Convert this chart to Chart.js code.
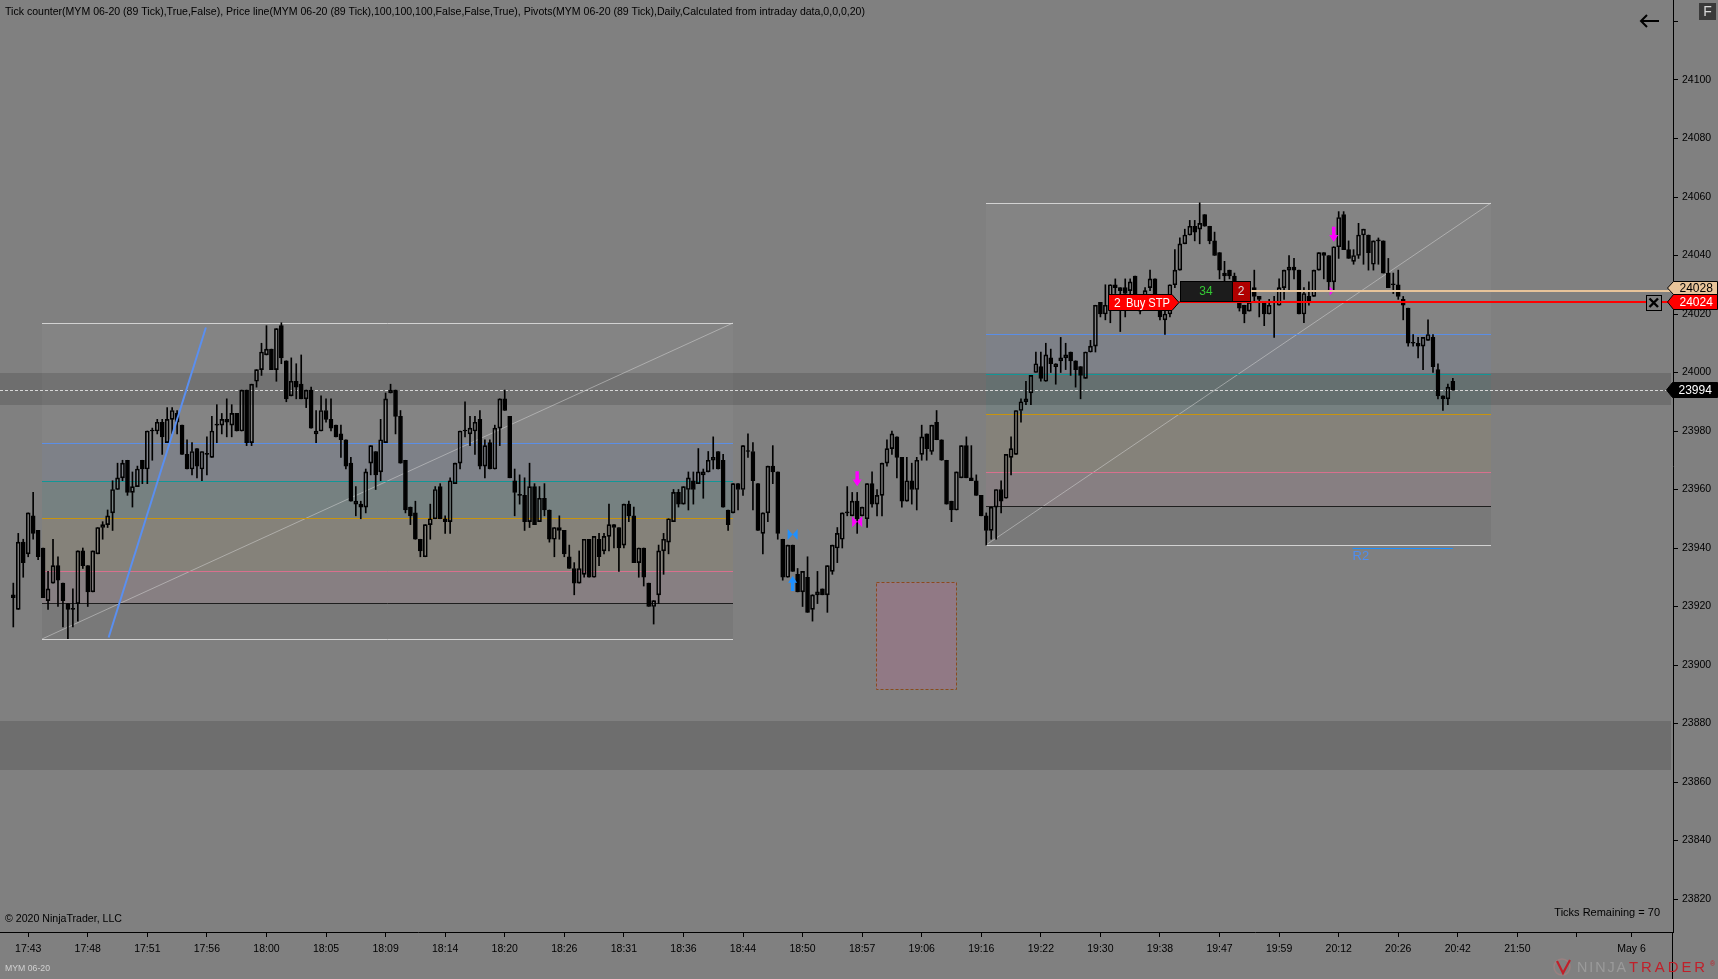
<!DOCTYPE html>
<html>
<head>
<meta charset="utf-8">
<title>MYM 06-20 (89 Tick)</title>
<script src="https://cdn.jsdelivr.net/npm/chart.js@4.4.1/dist/chart.umd.min.js"></script>
<style>
html,body{margin:0;padding:0;background:#808080;overflow:hidden;width:1718px;height:979px}
canvas{display:block}
</style>
</head>
<body>
<canvas id="chart" width="1718" height="979"></canvas>
<script>
// ---------------- DATA (MYM 06-20, 89 tick bars) ----------------
const opens = [
23924,23919,23942,23938,23951,23946,23940,23922,23928,23934,
23928,23921,23919,23921,23939,23934,23925,23938,23947,23948,
23952,23960,23964,23970,23959,23961,23970,23967,23980,23980,
23983,23976,23984,23986,23982,23972,23967,23974,23967,23972,
23971,23982,23982,23984,23982,23986,23980,23994,23976,23997,
24001,24006,24008,24001,24016,24004,23992,23997,
23996,23991,23994,23979,23980,23987,23984,23982,23979,23977,
23969,23955,23955,23954,23969,23973,23966,23976,23993,23994,
23985,23970,23954,23952,23943,23937,23948,23950,23961,23950,
23949,23962,23969,23980,23979,23980,23984,23968,23976,23967,
23981,23991,23985,23963,23958,23958,23949,23961,23949,23957,
23953,23943,23947,23946,23937,23933,23928,23931,
23943,23930,23943,23939,23944,23948,23947,23941,23955,23951,
23935,23940,23928,23920,23924,23939,23942,23949,23959,23955,
23960,23963,23962,23965,23966,23970,23973,23970,23953,23952,
23962,23960,23973,23973,23962,23945,23952,23968,23966,23943,
23930,23941,23931,23925,23930,23919,23924,23926,23924,23932,
23940,23943,23952,23951,23956,23951,23950,
23962,23955,23958,23969,23974,23978,23971,23956,23963,23960,
23972,23979,23973,23983,23977,23970,23956,23953,23964,23975,
23964,23963,23958,23951,23946,23954,23960,23957,23971,23972,
23987,23990,23993,24000,24002,23997,24005,24002,24004,24005,
24007,24004,24002,23998,24007,24009,24024,24020,24023,24030,
24029,24029,24028,24033,24021,24024,24029,24032,24024,24018,
24020,24030,24035,24044,24047,24050,24049,24054,24050,24045,
24041,24034,24035,24033,24026,24023,24021,24029,24026,24024,
24020,24024,24023,24029,24035,24036,24035,24020,24026,24026,
24035,24041,24040,24031,24043,24054,24042,24038,24040,24047,
24047,24037,24045,24045,24034,24030,24030,24025,24022,24010,
24010,24009,24011,24012,24001,23992,23991,23997];
const highs = [
23928,23945,23943,23952,23959,23946,23940,23932,23943,23937,
23928,23921,23926,23939,23940,23934,23939,23947,23949,23953,
23963,23969,23970,23970,23966,23968,23970,23980,23981,23984,
23984,23988,23988,23987,23982,23977,23976,23974,23973,23978,
23985,23989,23986,23991,23989,23986,23994,23994,23996,24001,
24010,24016,24008,24015,24017,24004,24005,24003,
24006,23994,23995,23987,23992,23991,23991,23982,23982,23977,
23971,23961,23956,23967,23975,23973,23984,23993,23996,23994,
23987,23970,23954,23956,23943,23948,23955,23961,23962,23951,
23964,23969,23980,23990,23985,23985,23987,23977,23977,23982,
23991,23994,23985,23967,23965,23964,23969,23962,23961,23962,
23953,23947,23951,23946,23941,23935,23939,23943,
23943,23944,23945,23945,23955,23948,23947,23955,23956,23954,
23940,23940,23928,23922,23941,23945,23950,23960,23960,23961,
23966,23966,23974,23967,23973,23978,23973,23972,23953,23962,
23962,23975,23979,23976,23962,23952,23968,23975,23966,23943,
23941,23941,23933,23932,23937,23924,23932,23926,23934,23941,
23947,23952,23961,23959,23959,23954,23962,
23966,23960,23969,23977,23980,23978,23971,23971,23969,23971,
23982,23979,23982,23987,23977,23970,23956,23966,23975,23978,
23975,23965,23958,23952,23954,23960,23963,23972,23978,23987,
23991,23997,23999,24007,24007,24010,24008,24003,24012,24010,
24007,24004,24002,24007,24011,24023,24024,24030,24030,24032,
24029,24032,24032,24033,24025,24029,24035,24032,24026,24022,
24030,24042,24046,24049,24052,24052,24058,24054,24050,24048,
24041,24038,24035,24034,24026,24023,24028,24035,24026,24024,
24025,24026,24032,24035,24040,24039,24035,24029,24031,24035,
24041,24041,24040,24043,24055,24055,24045,24042,24051,24049,
24047,24045,24046,24045,24039,24034,24035,24026,24022,24013,
24012,24012,24018,24013,24003,23992,23996,23998];
const lows = [
23913,23919,23930,23937,23943,23936,23923,23919,23928,23920,
23913,23909,23913,23915,23933,23920,23925,23938,23943,23947,
23946,23960,23963,23958,23954,23961,23962,23962,23970,23979,
23972,23976,23979,23979,23972,23967,23965,23964,23963,23965,
23971,23976,23979,23978,23978,23980,23980,23975,23975,23995,
23999,24006,24001,23997,24003,23990,23992,23991,
23991,23988,23981,23976,23980,23983,23980,23978,23971,23967,
23956,23951,23950,23952,23965,23960,23963,23976,23993,23979,
23969,23952,23948,23943,23937,23937,23943,23950,23950,23945,
23945,23962,23967,23978,23975,23972,23967,23964,23967,23967,
23975,23987,23964,23951,23955,23946,23947,23948,23949,23951,
23942,23937,23943,23937,23933,23924,23928,23930,
23930,23930,23934,23938,23939,23940,23932,23940,23949,23935,
23930,23927,23920,23914,23921,23931,23938,23949,23954,23955,
23953,23955,23962,23957,23966,23967,23967,23954,23946,23952,
23953,23958,23971,23953,23946,23938,23949,23962,23943,23929,
23930,23932,23925,23920,23918,23915,23921,23924,23918,23931,
23935,23940,23951,23951,23945,23951,23947,
23954,23951,23951,23968,23972,23964,23954,23956,23955,23953,
23970,23970,23972,23977,23970,23955,23949,23953,23964,23964,
23963,23958,23951,23941,23943,23943,23952,23957,23965,23972,
23983,23989,23989,24000,23997,23997,24000,23996,24000,24001,
23999,23995,23991,23998,24007,24007,24019,24018,24017,24027,
24014,24019,24026,24023,24020,24022,24028,24022,24018,24013,
24019,24029,24035,24044,24047,24045,24044,24050,24044,24040,
24032,24031,24032,24026,24021,24017,24021,24024,24019,24016,
24020,24012,24023,24025,24028,24032,24020,24017,24023,24026,
24035,24032,24028,24028,24039,24042,24039,24037,24039,24037,
24035,24035,24037,24034,24029,24027,24025,24018,24009,24009,
24005,24001,24011,24000,23991,23987,23989,23994];
const closes = [
23923,23942,23935,23952,23945,23937,23923,23926,23934,23929,
23922,23919,23919,23939,23934,23925,23939,23947,23948,23951,
23960,23964,23969,23959,23961,23967,23967,23980,23980,23983,
23978,23984,23987,23983,23972,23967,23973,23968,23973,23972,
23980,23982,23984,23983,23986,23980,23994,23976,23996,24001,
24007,24008,24001,24015,24005,23991,23997,23995,
23991,23994,23981,23980,23987,23984,23981,23978,23977,23968,
23956,23956,23954,23966,23975,23965,23977,23991,23994,23985,
23969,23953,23951,23943,23939,23948,23950,23960,23950,23949,
23963,23969,23980,23980,23981,23983,23968,23975,23967,23981,
23991,23987,23964,23959,23958,23949,23961,23948,23957,23953,
23943,23947,23946,23938,23933,23928,23933,23943,
23930,23944,23937,23944,23948,23947,23940,23955,23951,23935,
23940,23930,23920,23922,23939,23943,23950,23959,23955,23961,
23964,23960,23966,23966,23970,23971,23967,23954,23948,23962,
23960,23975,23973,23963,23946,23952,23968,23966,23945,23930,
23941,23932,23925,23932,23918,23924,23925,23924,23934,23941,
23945,23952,23952,23956,23950,23954,23962,
23955,23958,23969,23974,23979,23971,23956,23963,23960,23970,
23978,23974,23982,23977,23970,23955,23953,23966,23975,23964,
23963,23958,23951,23946,23954,23960,23956,23972,23974,23987,
23990,23991,23999,24003,23998,24006,24003,24003,24005,24006,
24004,24001,23999,24007,24009,24023,24020,24023,24030,24029,
24028,24027,24031,24024,24023,24028,24032,24024,24019,24020,
24030,24035,24044,24047,24050,24048,24051,24050,24045,24040,
24035,24033,24033,24028,24022,24020,24024,24026,24025,24020,
24023,24024,24029,24035,24036,24035,24020,24027,24024,24035,
24041,24040,24031,24043,24053,24042,24039,24040,24047,24049,
24041,24045,24045,24034,24029,24030,24026,24023,24010,24010,
24009,24012,24013,24002,23992,23991,23995,23994];

// time axis: one label every 12 bars starting at bar 3, then a date label
const timeLabels = ['17:43','17:48','17:51','17:56','18:00','18:05','18:09','18:14','18:20','18:26',
  '18:31','18:36','18:44','18:50','18:57','19:06','19:16','19:22','19:30','19:38',
  '19:47','19:59','20:12','20:26','20:42','21:50','','May 6'];
const timeTickBars = [3,15,27,39,51,63,75,87,99,111,123,135,147,159,171,183,195,207,219,231,
  243,255,267,279,291,303,315,326];

// price axis
const priceTicks = [23820,23840,23860,23880,23900,23920,23940,23960,23980,24000,24020,24040,24060,24080,24100,24120];
const priceTickLabels = ['23820','23840','23860','23880','23900','23920','23940','23960','23980','24000','24020','24040','24060','24080','24100',''];

// drawing objects (bar index / price coordinates)
const zoneTops = [24000, 23881];
const zoneBottoms = [23989, 23864];
const fibLevels = [0, 0.382, 0.5, 0.618, 0.786, 0.886, 1];
const fibStartBars = [5.84, 196.0];
const fibEndBars = [145.04, 297.7];
const fibHighs = [24017, 24058];
const fibLows = [23909, 23941];
const trendBars = [19.2, 38.8];
const trendPrices = [23909.4, 24015.4];
const rectBars = [173.8, 189.9];
const rectPrices = [23928.4, 23891.7];
const pivotName = 'R2';
const pivotPrice = 23940;
const pivotBars = [269.8, 290];
const markerBars = [157, 157, 170, 170, 266, 266];
const markerPrices = [23944.6, 23927.9, 23963.7, 23949.0, 24047.3, 24027.9];
const markerKinds = ['bowtie', 'up', 'down', 'bowtie', 'down', 'half'];
const markerColors = ['#1e90ff', '#1e90ff', '#ff00ff', '#ff00ff', '#ff00ff', '#ff00ff'];
const orderPrice = 24024;
const orderQty = 2;
const orderType = 'Buy STP';
const orderLabelBar = 220.6;
const positionPrice = 24028;
const positionTicks = 34;
const positionQty = 2;
const lastPrice = closes[closes.length - 1];
const ticksRemaining = 70;

// ---------------- CHART ----------------
const FONT = "'Liberation Sans', Arial, Helvetica, sans-serif";
const barIdx = opens.map((_, i) => i);
const bodyData = barIdx.map(i => ({x: i, y: [opens[i], closes[i]]}));
const upperWick = barIdx.map(i => ({x: i, y: [Math.max(opens[i], closes[i]), highs[i]]}));
const lowerWick = barIdx.map(i => ({x: i, y: [lows[i], Math.min(opens[i], closes[i])]}));
const bodyFill = barIdx.map(i => closes[i] >= opens[i] ? 'rgba(0,0,0,0)' : '#000000');

const fibLineColors = ['#d2d2d2', '#5b8ee6', '#129696', '#c8940e', '#d8708e', '#1e1e1e', '#d2d2d2'];
const fibFillColors = ['rgba(255,255,255,0.03)', 'rgba(100,140,240,0.07)', 'rgba(0,140,140,0.08)',
  'rgba(218,165,32,0.06)', 'rgba(225,110,150,0.07)', 'rgba(0,0,0,0.05)'];

function cr(v) { return Math.round(v) + 0.5; }

function hline(ctx, y, x1, x2, color, w, dash) {
  ctx.save();
  ctx.strokeStyle = color; ctx.lineWidth = w || 1;
  if (dash) ctx.setLineDash(dash);
  const yy = (w || 1) % 2 === 1 ? cr(y) : Math.round(y);
  ctx.beginPath(); ctx.moveTo(x1, yy); ctx.lineTo(x2, yy); ctx.stroke();
  ctx.restore();
}

function drawArrow(ctx, cx, cy, w, h, dir) { // dir 1 = down, -1 = up
  const s = dir, head = h * 0.45, sw = w * 0.38;
  const tail = cy - s * h / 2, neck = cy + s * (h / 2 - head), tip = cy + s * h / 2;
  ctx.beginPath();
  ctx.moveTo(cx - sw / 2, tail); ctx.lineTo(cx + sw / 2, tail);
  ctx.lineTo(cx + sw / 2, neck); ctx.lineTo(cx + w / 2, neck);
  ctx.lineTo(cx, tip); ctx.lineTo(cx - w / 2, neck);
  ctx.lineTo(cx - sw / 2, neck); ctx.closePath(); ctx.fill();
}
function drawBowtie(ctx, cx, cy, w, h, half) {
  ctx.beginPath();
  ctx.moveTo(cx - w / 2, cy - h / 2); ctx.lineTo(cx, cy); ctx.lineTo(cx - w / 2, cy + h / 2); ctx.closePath();
  if (!half) { ctx.moveTo(cx + w / 2, cy - h / 2); ctx.lineTo(cx, cy); ctx.lineTo(cx + w / 2, cy + h / 2); ctx.closePath(); }
  ctx.fill();
}
function priceTag(ctx, xTip, top, bottom, xRight, fill, text, textColor) {
  const cy = (top + bottom) / 2;
  ctx.beginPath();
  ctx.moveTo(xTip, cy); ctx.lineTo(xTip + 6, top); ctx.lineTo(xRight, top);
  ctx.lineTo(xRight, bottom); ctx.lineTo(xTip + 6, bottom); ctx.closePath();
  ctx.fillStyle = fill; ctx.fill();
  ctx.strokeStyle = '#000'; ctx.lineWidth = 1; ctx.stroke();
  ctx.fillStyle = textColor; ctx.font = '12px ' + FONT; ctx.textAlign = 'left'; ctx.textBaseline = 'middle';
  ctx.fillText(text, xTip + 12, cy + 0.5);
}
function spacedText(ctx, text, x, y, width, spacing) {
  ctx.save();
  if ('letterSpacing' in ctx) ctx.letterSpacing = spacing + 'px';
  ctx.fillText(text, x, y, width);
  ctx.restore();
}

const overlay = {
  id: 'ntOverlay',
  beforeDraw(chart) {
    const ctx = chart.ctx;
    ctx.save(); ctx.fillStyle = '#808080'; ctx.fillRect(0, 0, chart.width, chart.height); ctx.restore();
  },
  beforeDatasetsDraw(chart) {
    const {ctx, chartArea: ca, scales: {x, y}} = chart;
    ctx.save();
    ctx.beginPath(); ctx.rect(ca.left, ca.top, ca.right - ca.left, ca.bottom - ca.top); ctx.clip();
    // dark zones
    zoneTops.forEach((t, k) => {
      const y1 = y.getPixelForValue(t), y2 = y.getPixelForValue(zoneBottoms[k]);
      ctx.fillStyle = 'rgba(0,0,0,0.14)';
      ctx.fillRect(ca.left, Math.round(y1), ca.right - ca.left - 2, Math.round(y2) - Math.round(y1));
    });
    // fibonacci retracements
    fibHighs.forEach((hi, k) => {
      const lo = fibLows[k];
      const xl = Math.round(x.getPixelForValue(fibStartBars[k])), xr = Math.round(x.getPixelForValue(fibEndBars[k]));
      const lv = fibLevels.map(f => Math.round(y.getPixelForValue(hi - f * (hi - lo))));
      for (let j = 0; j < lv.length - 1; j++) {
        ctx.fillStyle = fibFillColors[j];
        ctx.fillRect(xl, lv[j], xr - xl, lv[j + 1] - lv[j]);
      }
      ctx.strokeStyle = 'rgba(215,215,215,0.5)'; ctx.lineWidth = 1;
      ctx.beginPath(); ctx.moveTo(xl, lv[lv.length - 1]); ctx.lineTo(xr, lv[0]); ctx.stroke();
      lv.forEach((py, j) => hline(ctx, py, xl, xr, fibLineColors[j], 1));
    });
    // rectangle
    {
      const x1 = Math.round(x.getPixelForValue(rectBars[0])), x2 = Math.round(x.getPixelForValue(rectBars[1]));
      const y1 = Math.round(y.getPixelForValue(rectPrices[0])), y2 = Math.round(y.getPixelForValue(rectPrices[1]));
      ctx.fillStyle = 'rgba(205,95,150,0.22)';
      ctx.fillRect(x1, y1, x2 - x1, y2 - y1);
      ctx.save(); ctx.setLineDash([3, 2]); ctx.strokeStyle = '#8b4a1e'; ctx.lineWidth = 1;
      ctx.strokeRect(x1 + 0.5, y1 + 0.5, x2 - x1, y2 - y1); ctx.restore();
    }
    // last price dashed line
    hline(ctx, y.getPixelForValue(lastPrice), ca.left, ca.right, '#d8d8d8', 1, [3, 2]);
    ctx.restore();
  },
  afterDatasetsDraw(chart) {
    const {ctx, chartArea: ca, scales: {x, y}} = chart;
    ctx.save();
    ctx.beginPath(); ctx.rect(ca.left, ca.top, ca.right - ca.left, ca.bottom - ca.top); ctx.clip();
    // trend line
    ctx.strokeStyle = '#5a8ff0'; ctx.lineWidth = 2;
    ctx.beginPath();
    ctx.moveTo(x.getPixelForValue(trendBars[0]), y.getPixelForValue(trendPrices[0]));
    ctx.lineTo(x.getPixelForValue(trendBars[1]), y.getPixelForValue(trendPrices[1]));
    ctx.stroke();
    // pivot R2
    const py = y.getPixelForValue(pivotPrice);
    const px1 = x.getPixelForValue(pivotBars[0]), px2 = x.getPixelForValue(pivotBars[1]);
    hline(ctx, py, px1, px2, '#1e90ff', 1);
    ctx.fillStyle = '#4d8df0'; ctx.font = '13px ' + FONT; ctx.textAlign = 'left'; ctx.textBaseline = 'top';
    ctx.fillText(pivotName, px1, py + 2);
    // markers
    markerBars.forEach((b, k) => {
      const mx = x.getPixelForValue(b), my = y.getPixelForValue(markerPrices[k]);
      ctx.fillStyle = markerColors[k];
      const kind = markerKinds[k];
      if (kind === 'bowtie') drawBowtie(ctx, mx, my, 10, 11, false);
      else if (kind === 'half') drawBowtie(ctx, mx, my, 8, 9, true);
      else if (kind === 'down') drawArrow(ctx, mx, my, 9, 15, 1);
      else drawArrow(ctx, mx, my, 9, 15, -1);
    });
    // order + position lines and widgets
    const oy = y.getPixelForValue(orderPrice), posY = y.getPixelForValue(positionPrice);
    const ox = Math.round(x.getPixelForValue(orderLabelBar));
    const ow = 64, tipW = 7;
    const boxL = ox + ow + tipW + 1, box34W = 52, box2W = 18;
    hline(ctx, posY, boxL + box34W + box2W, ca.right, '#e8c49a', 2);
    hline(ctx, oy, ox + ow + tipW, ca.right, '#ff0000', 2);
    // position box "34 | 2"
    const bt = Math.round(posY) - 10, bh = 20;
    ctx.fillStyle = '#1c1c1c'; ctx.fillRect(boxL, bt, box34W, bh);
    ctx.strokeStyle = '#000'; ctx.lineWidth = 1; ctx.strokeRect(boxL + 0.5, bt + 0.5, box34W, bh);
    ctx.fillStyle = '#b00000'; ctx.fillRect(boxL + box34W, bt, box2W, bh);
    ctx.strokeRect(boxL + box34W + 0.5, bt + 0.5, box2W, bh);
    ctx.font = '12px ' + FONT; ctx.textAlign = 'center'; ctx.textBaseline = 'middle';
    ctx.fillStyle = '#34c834'; ctx.fillText(String(positionTicks), boxL + box34W / 2, bt + bh / 2 + 1);
    ctx.fillStyle = '#d8d8d8'; ctx.fillText(String(positionQty), boxL + box34W + box2W / 2, bt + bh / 2 + 1);
    // order label
    const ot = Math.round(oy) - 8, ob = Math.round(oy) + 8;
    ctx.beginPath();
    ctx.moveTo(ox + 0.5, ot + 0.5); ctx.lineTo(ox + ow, ot + 0.5); ctx.lineTo(ox + ow + tipW, Math.round(oy) + 0.5);
    ctx.lineTo(ox + ow, ob + 0.5); ctx.lineTo(ox + 0.5, ob + 0.5); ctx.closePath();
    ctx.fillStyle = '#ff0000'; ctx.fill(); ctx.strokeStyle = '#000'; ctx.stroke();
    ctx.fillStyle = '#ffffff'; ctx.font = '12px ' + FONT; ctx.textAlign = 'left';
    ctx.fillText(String(orderQty), ox + 6, oy + 1);
    ctx.fillText(orderType, ox + 18, oy + 1, 44);
    // cancel (X) button
    const xb = ca.right - 27, xt = Math.round(oy) - 7;
    ctx.fillStyle = '#808080'; ctx.fillRect(xb, xt, 15, 15);
    ctx.strokeStyle = '#000'; ctx.lineWidth = 1; ctx.strokeRect(xb + 0.5, xt + 0.5, 15, 15);
    ctx.lineWidth = 2.4; ctx.beginPath();
    ctx.moveTo(xb + 3.5, xt + 3.5); ctx.lineTo(xb + 12, xt + 12);
    ctx.moveTo(xb + 12, xt + 3.5); ctx.lineTo(xb + 3.5, xt + 12); ctx.stroke();
    ctx.restore();
  },
  afterDraw(chart) {
    const {ctx, chartArea: ca, scales: {y}} = chart;
    ctx.save();
    // axis line continues to the bottom edge
    ctx.strokeStyle = '#000'; ctx.lineWidth = 1;
    ctx.beginPath(); ctx.moveTo(cr(ca.right) - 1, ca.bottom); ctx.lineTo(cr(ca.right) - 1, chart.height); ctx.stroke();
    // price tags on the axis
    const rY = Math.round(y.getPixelForValue(orderPrice));
    const bY = Math.round(y.getPixelForValue(lastPrice));
    const tagL = ca.right - 6, tagR = chart.width - 1;
    priceTag(ctx, tagL + 0.5, rY - 20.5, rY - 7.5, tagR + 0.5, '#e8c49a', String(positionPrice), '#000');
    priceTag(ctx, tagL + 0.5, rY - 7.5, rY + 7.5, tagR + 0.5, '#ff0000', String(orderPrice), '#fff');
    priceTag(ctx, tagL - 0.5, bY - 7.5, bY + 7.5, tagR + 0.5, '#000000', String(lastPrice), '#fff');
    // top texts
    ctx.fillStyle = '#000'; ctx.font = '11px ' + FONT; ctx.textAlign = 'left'; ctx.textBaseline = 'middle';
    ctx.fillText('Tick counter(MYM 06-20 (89 Tick),True,False), Price line(MYM 06-20 (89 Tick),100,100,100,False,False,True), Pivots(MYM 06-20 (89 Tick),Daily,Calculated from intraday data,0,0,0,20)', 5, 12, 860);
    ctx.fillText('\u00A9 2020 NinjaTrader, LLC', 5, 919, 117);
    ctx.textAlign = 'right';
    ctx.fillText('Ticks Remaining = ' + ticksRemaining, 1660, 913, 108);
    // F button
    ctx.fillStyle = '#3a3a3a'; ctx.fillRect(1699, 3, 17, 17);
    ctx.fillStyle = '#d8d8d8'; ctx.font = '14px ' + FONT; ctx.textAlign = 'center';
    ctx.fillText('F', 1707.5, 12);
    // back arrow
    ctx.strokeStyle = '#000'; ctx.lineWidth = 2;
    ctx.beginPath(); ctx.moveTo(1641, 21); ctx.lineTo(1659, 21);
    ctx.moveTo(1647, 15); ctx.lineTo(1641, 21); ctx.lineTo(1647, 27); ctx.stroke();
    // instrument name
    ctx.fillStyle = '#d0d0d0'; ctx.font = '9px ' + FONT; ctx.textAlign = 'left';
    ctx.fillText('MYM 06-20', 5, 969, 45);
    // logo
    ctx.strokeStyle = '#9a8080'; ctx.lineWidth = 1.5;
    ctx.beginPath(); ctx.arc(1562, 967, 8, 0, Math.PI * 2); ctx.stroke();
    ctx.strokeStyle = '#c0202a'; ctx.lineWidth = 2.2;
    ctx.beginPath(); ctx.moveTo(1557, 961); ctx.lineTo(1563, 973); ctx.lineTo(1570, 960); ctx.stroke();
    ctx.font = '15px ' + FONT; ctx.textBaseline = 'middle'; ctx.textAlign = 'left';
    ctx.fillStyle = '#9a9a9a';
    spacedText(ctx, 'NINJA', 1577, 968, 51, 2);
    ctx.fillStyle = '#c0202a';
    spacedText(ctx, 'TRADER', 1629, 968, 79, 3);
    ctx.font = '7px ' + FONT; ctx.fillText('\u00AE', 1710, 964);
    ctx.restore();
  }
};

const chart = new Chart(document.getElementById('chart'), {
  type: 'bar',
  data: {
    datasets: [
      {data: bodyData, backgroundColor: bodyFill, borderColor: '#000', borderWidth: 1, borderSkipped: false,
       barThickness: 4, minBarLength: 1, grouped: false},
      {data: upperWick, backgroundColor: '#000', borderWidth: 0, barThickness: 1, grouped: false},
      {data: lowerWick, backgroundColor: '#000', borderWidth: 0, barThickness: 1, grouped: false}
    ]
  },
  options: {
    responsive: false,
    animation: false,
    events: [],
    layout: {padding: 0},
    plugins: {legend: {display: false}, tooltip: {enabled: false}, title: {display: false}},
    scales: {
      x: {
        type: 'linear', position: 'bottom', bounds: 'data', offset: false,
        min: -2.68, max: 334.35,
        grid: {display: true, drawOnChartArea: false, drawTicks: true, tickLength: 5, color: '#000', offset: false},
        border: {display: true, color: '#000', width: 1},
        ticks: {autoSkip: false, maxRotation: 0, minRotation: 0, color: '#000', padding: 6,
          font: {family: FONT, size: 10.5},
          callback: (v, i) => timeLabels[i]},
        afterBuildTicks: s => { s.ticks = timeTickBars.map(v => ({value: v})); },
        afterFit: s => { s.height = 47; s.paddingLeft = 0; s.paddingRight = 0; }
      },
      y: {
        type: 'linear', position: 'right', bounds: 'data',
        min: 23808.72, max: 24127.35,
        grid: {display: true, drawOnChartArea: false, drawTicks: true, tickLength: 5, color: '#000'},
        border: {display: true, color: '#000', width: 1},
        ticks: {autoSkip: false, color: '#000', padding: 4, font: {family: FONT, size: 10.5},
          callback: (v, i) => priceTickLabels[i]},
        afterBuildTicks: s => { s.ticks = priceTicks.map(v => ({value: v})); },
        afterFit: s => { s.width = 45; s.paddingTop = 0; s.paddingBottom = 0; }
      }
    }
  },
  plugins: [overlay]
});
</script>
</body>
</html>
